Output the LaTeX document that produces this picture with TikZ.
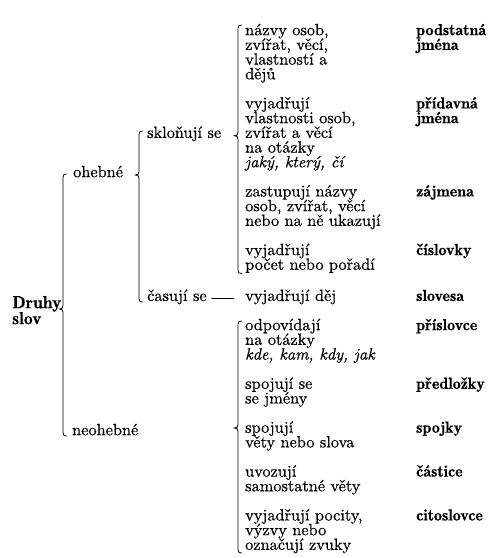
\documentclass[tikz,border=0pt]{standalone}
\usepackage{fontspec}
\newfontfamily\bodyfont{lmroman10-regular.otf}[ItalicFont=lmroman10-italic.otf, FakeBold=0.6]
\newfontfamily\demifont{lmromandemi10-regular.otf}[FakeBold=0.4]
\newcommand\mybrace[4]{% x, top, cusp, bottom
 \draw[bracestyle] ({#1+3.5},#2) .. controls ({#1+1},#2) and (#1,{#2+1}) .. (#1,{#2+3.5})
   -- (#1,{#3-3.5}) .. controls (#1,{#3-1}) and ({#1-1},#3) .. ({#1-3.5},#3)
   .. controls ({#1-1},#3) and (#1,{#3+1}) .. (#1,{#3+3.5})
   -- (#1,{#4-3.5}) .. controls (#1,{#4-1}) and ({#1+1},#4) .. ({#1+3.5},#4);}
\begin{document}
\begin{tikzpicture}[x=1pt,y=-1pt,
  txt/.style={anchor=mid west, inner sep=0pt, font=\bodyfont\fontsize{16.3}{18}\selectfont},
  itx/.style={anchor=mid west, inner sep=0pt, font=\bodyfont\fontsize{16.3}{18}\selectfont\itshape},
  lbl/.style={anchor=mid west, inner sep=0pt, font=\demifont\fontsize{16}{18}\selectfont},
  ttl/.style={anchor=mid west, inner sep=0pt, font=\demifont\fontsize{17.5}{19}\selectfont},
  bracestyle/.style={line width=0.8pt, line cap=round}]
\useasboundingbox (0,0) rectangle (489,558);

% left column
\node[ttl] (druhy) at (12,306) {Druhy};
\node[ttl] (slov) at (12,322) {slov};
\node[txt] (ohebne) at (73,175) {ohebné};
\node[txt] (neohebne) at (72,433) {neohebné};
\node[txt] (sklonuji) at (147,135.7) {skloňují se};
\node[txt] (casuji) at (147,298.8) {časují se};

% middle column
\node[txt] (b1a) at (245,33) {názvy osob,};
\node[txt] (b1b) at (245,47.7) {zvířat, věcí,};
\node[txt] (b1c) at (245,62.4) {vlastností a};
\node[txt] (b1d) at (245,77.1) {dějů};
\node[txt] (b2a) at (245,106.3) {vyjadřují};
\node[txt] (b2b) at (245,121) {vlastnosti osob,};
\node[txt] (b2c) at (245,135.7) {zvířat a věcí};
\node[txt] (b2d) at (245,150.4) {na otázky};
\node[itx] (b2e) at (245,165.1) {jaký, který, čí};
\node[txt] (b3a) at (245,194.3) {zastupují názvy};
\node[txt] (b3b) at (245,209) {osob, zvířat, věcí};
\node[txt] (b3c) at (245,223.7) {nebo na ně ukazují};
\node[txt] (b4a) at (245,252.9) {vyjadřují};
\node[txt] (b4b) at (245,267.6) {počet nebo pořadí};
\node[txt] (dej) at (245,298.8) {vyjadřují děj};
\node[txt] (b5a) at (245,328) {odpovídají};
\node[txt] (b5b) at (245,342.7) {na otázky};
\node[itx] (b5c) at (245,357.4) {kde, kam, kdy, jak};
\node[txt] (b6a) at (245,386.6) {spojují se};
\node[txt] (b6b) at (245,401.3) {se jmény};
\node[txt] (b7a) at (245,430.5) {spojují};
\node[txt] (b7b) at (245,445.2) {věty nebo slova};
\node[txt] (b8a) at (245,474.4) {uvozují};
\node[txt] (b8b) at (245,489.1) {samostatné věty};
\node[txt] (b9a) at (245,518.3) {vyjadřují pocity,};
\node[txt] (b9b) at (245,533) {výzvy nebo};
\node[txt] (b9c) at (245,547.7) {označují zvuky};

% right column
\node[lbl] (podst) at (416,33) {podstatná};
\node[lbl] (jmena1) at (416,47.7) {jména};
\node[lbl] (prid) at (416,106.3) {přídavná};
\node[lbl] (jmena2) at (416,121) {jména};
\node[lbl] (zajm) at (416,194.3) {zájmena};
\node[lbl] (cisl) at (416,252.9) {číslovky};
\node[lbl] (slovesa) at (416,298.8) {slovesa};
\node[lbl] (prisl) at (416,328) {příslovce};
\node[lbl] (predl) at (416,386.6) {předložky};
\node[lbl] (spojky) at (416,430.5) {spojky};
\node[lbl] (castice) at (416,474.4) {částice};
\node[lbl] (citosl) at (416,518.3) {citoslovce};

% braces
\mybrace{63}{174}{309}{436}
\mybrace{139}{131}{175}{302}
\mybrace{238}{25}{135.7}{273.6}
\mybrace{238}{321}{428}{553}

% dash
\draw[bracestyle] ([xshift=5pt]casuji.mid east) -- ([xshift=-11pt]dej.mid west);
\end{tikzpicture}
\end{document}
